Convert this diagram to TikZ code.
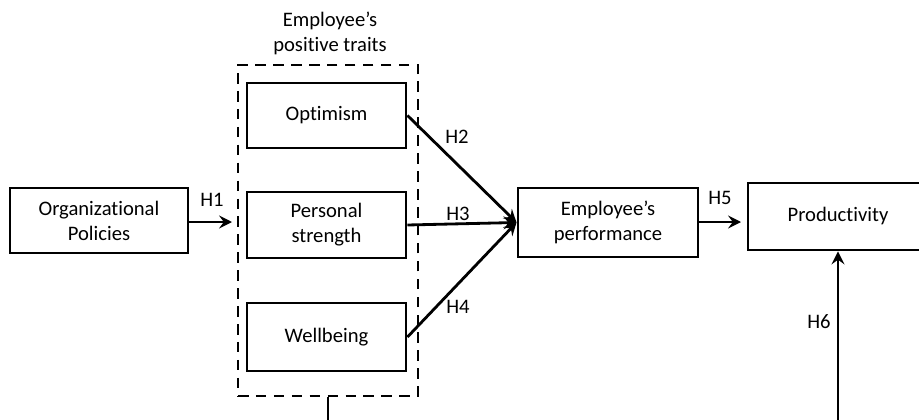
\documentclass[tikz,border=0pt]{standalone}
\usepackage{fontspec}
\setmainfont{Carlito}[Ligatures={TeX,NoCommon}]
\usetikzlibrary{arrows.meta}
\begin{document}
\begin{tikzpicture}[x=0.03cm,y=-0.03cm,
  font=\fontsize{17.6}{21.3}\selectfont,
  box/.style={draw, line width=2.5pt, align=center, inner sep=0pt},
  dashbox/.style={draw, line width=2.5pt, dash pattern=on 9pt off 6.3pt, inner sep=0pt},
  link/.style={line width=2.4pt, -{Stealth[length=11pt,width=11pt,inset=4pt]}},
  hyp/.style={inner sep=1pt}]
\useasboundingbox (0,0) rectangle (919,420);
\begin{scope}
\clip (0,0) rectangle (919,420);

% construct boxes
\node[box, minimum width=5.34cm, minimum height=1.95cm] (org) at (99,220.5) {Organizational\\Policies};
\node[dashbox, minimum width=5.4cm, minimum height=9.93cm] (traits) at (328,230.5) {};
\node[align=center] (title) at (330,33) {Employee’s\\positive traits};
\node[box, minimum width=4.77cm, minimum height=1.95cm] (opt) at (326.5,115.5) {Optimism};
\node[box, minimum width=4.77cm, minimum height=1.98cm] (pers) at (326.5,225) {Personal\\strength};
\node[box, minimum width=4.77cm, minimum height=2.04cm] (well) at (326.5,337) {Wellbeing};
\node[box, minimum width=5.4cm, minimum height=2.07cm] (perf) at (608,222.5) {Employee’s\\performance};
\node[box, minimum width=5.4cm, minimum height=2.01cm] (prod) at (838,216.5) {Productivity};

% hypothesised paths
\coordinate (h1end) at (232,222);
\coordinate (h5end) at (741,222);
\draw[link] (org.east |- h1end) -- (h1end);
\draw[link] (opt.east) -- (perf.west);
\draw[link] (pers.east) -- (perf.west);
\draw[link] (well.east) -- (perf.west);
\draw[link] (perf.east |- h5end) -- (h5end);
\draw[link] (traits.south) -- ++(0,80) -| (prod.south);

% hypothesis labels
\node[hyp] (H1) at (212,200) {H1};
\node[hyp] (H2) at (457,137) {H2};
\node[hyp] (H3) at (458,214) {H3};
\node[hyp] (H4) at (458,307) {H4};
\node[hyp] (H5) at (720,198) {H5};
\node[hyp] (H6) at (819,322) {H6};
\end{scope}
\end{tikzpicture}
\end{document}
